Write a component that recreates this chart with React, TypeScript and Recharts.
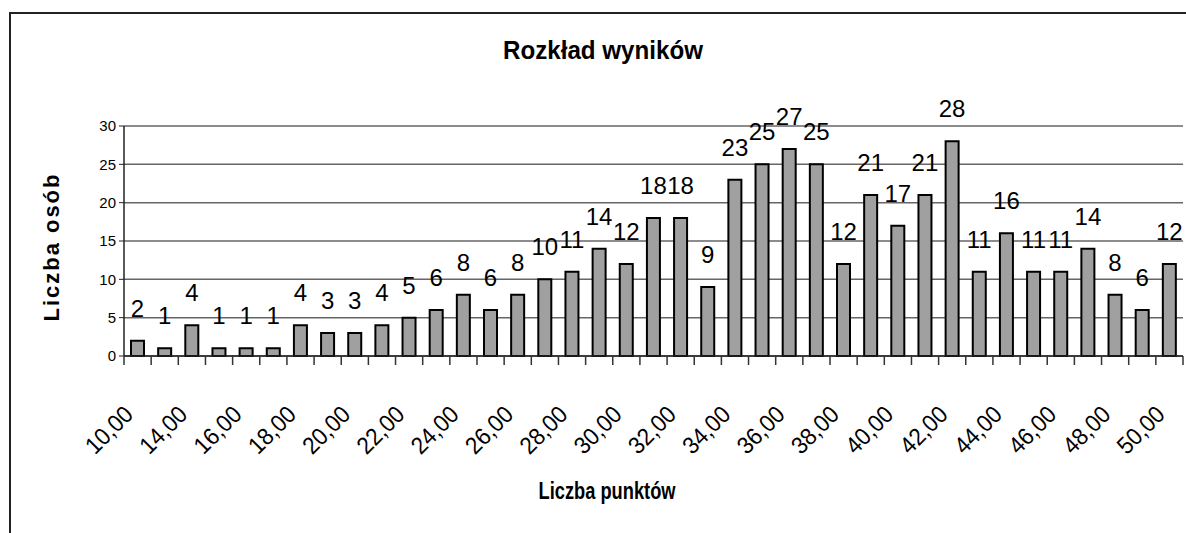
import React from 'react';
import { BarChart, Bar, XAxis, YAxis, CartesianGrid, LabelList } from 'recharts';

const scoreLabels = [
  '10,00', '12,00', '14,00', '15,00', '16,00', '17,00', '18,00', '19,00', '20,00', '21,00',
  '22,00', '23,00', '24,00', '25,00', '26,00', '27,00', '28,00', '29,00', '30,00', '31,00',
  '32,00', '33,00', '34,00', '35,00', '36,00', '37,00', '38,00', '39,00', '40,00', '41,00',
  '42,00', '43,00', '44,00', '45,00', '46,00', '47,00', '48,00', '49,00', '50,00',
];
const peopleCounts = [
  2, 1, 4, 1, 1, 1, 4, 3, 3, 4,
  5, 6, 8, 6, 8, 10, 11, 14, 12, 18,
  18, 9, 23, 25, 27, 25, 12, 21, 17, 21,
  28, 11, 16, 11, 11, 14, 8, 6, 12,
];
const yTicks = [0, 5, 10, 15, 20, 25, 30];

const chartTitle = 'Rozkład wyników';
const xTitle = 'Liczba punktów';
const yTitle = 'Liczba osób';

const data = scoreLabels.map((score, i) => ({ score, count: peopleCounts[i] }));

const W = 1186;
const H = 533;
const PLOT_LEFT = 124;
const PLOT_RIGHT = 3;
const STEP = (W - PLOT_LEFT - PLOT_RIGHT) / scoreLabels.length;
const FONT = "'Liberation Sans', Arial, sans-serif";

const XTick = (props: any) => {
  const { x, y, payload, index } = props;
  const half = STEP / 2;
  const lx = x - 3;
  const ly = y + 60;
  return (
    <g>
      <line x1={x - half} y1={y} x2={x - half} y2={y + 9} stroke="#333" strokeWidth={1.5} />
      {index === scoreLabels.length - 1 && (
        <line x1={x + half} y1={y} x2={x + half} y2={y + 9} stroke="#333" strokeWidth={1.5} />
      )}
      {index % 2 === 0 && (
        <text
          x={lx}
          y={ly}
          transform={`rotate(-45 ${lx} ${ly})`}
          textAnchor="end"
          fontSize={24}
          fontFamily={FONT}
          fill="#000"
          textLength={56}
          lengthAdjust="spacingAndGlyphs"
        >
          {payload.value}
        </text>
      )}
    </g>
  );
};

export default function App() {
  return (
    <div style={{ position: 'absolute', left: 0, top: 0, width: W, height: H, background: '#fff', overflow: 'hidden' }}>
      <div style={{ position: 'absolute', left: 9, top: 12, width: W, height: H, borderLeft: '2px solid #222', borderTop: '2px solid #222' }} />
      <BarChart
        width={W}
        height={H}
        data={data}
        margin={{ top: 126, right: PLOT_RIGHT, left: 64, bottom: 47 }}
        barCategoryGap={0}
      >
        <CartesianGrid vertical={false} stroke="#666" strokeWidth={1.5} />
        <XAxis
          dataKey="score"
          interval={0}
          tickLine={false}
          tickSize={0}
          tickMargin={0}
          height={130}
          axisLine={{ stroke: '#222', strokeWidth: 1.5 }}
          tick={<XTick />}
        />
        <YAxis
          domain={[0, 30]}
          ticks={yTicks}
          width={60}
          tickSize={5}
          tickMargin={3}
          axisLine={{ stroke: '#222', strokeWidth: 1.5 }}
          tickLine={{ stroke: '#222' }}
          tick={{ fontSize: 15, fill: '#000', fontFamily: FONT }}
        />
        <YAxis
          yAxisId="frame"
          orientation="right"
          width={0}
          tick={false}
          tickLine={false}
          axisLine={{ stroke: '#777', strokeWidth: 1.5 }}
        />
        <Bar dataKey="count" fill="#a0a0a0" stroke="#000" strokeWidth={2} barSize={13} isAnimationActive={false}>
          <LabelList dataKey="count" position="top" offset={24} fontSize={24} fontFamily={FONT} fill="#000" />
        </Bar>
      </BarChart>
      <svg width={W} height={H} style={{ position: 'absolute', left: 0, top: 0, pointerEvents: 'none' }}>
        <text
          x={603}
          y={59}
          textAnchor="middle"
          fontSize={25}
          fontWeight="bold"
          fontFamily={FONT}
          textLength={200}
          lengthAdjust="spacingAndGlyphs"
        >
          {chartTitle}
        </text>
        <text
          x={607}
          y={499}
          textAnchor="middle"
          fontSize={24}
          fontWeight="bold"
          fontFamily={FONT}
          textLength={137}
          lengthAdjust="spacingAndGlyphs"
        >
          {xTitle}
        </text>
        <text
          x={59}
          y={248}
          transform="rotate(-90 59 248)"
          textAnchor="middle"
          fontSize={22}
          fontWeight="bold"
          fontFamily={FONT}
          textLength={147}
          lengthAdjust="spacing"
        >
          {yTitle}
        </text>
      </svg>
    </div>
  );
}
